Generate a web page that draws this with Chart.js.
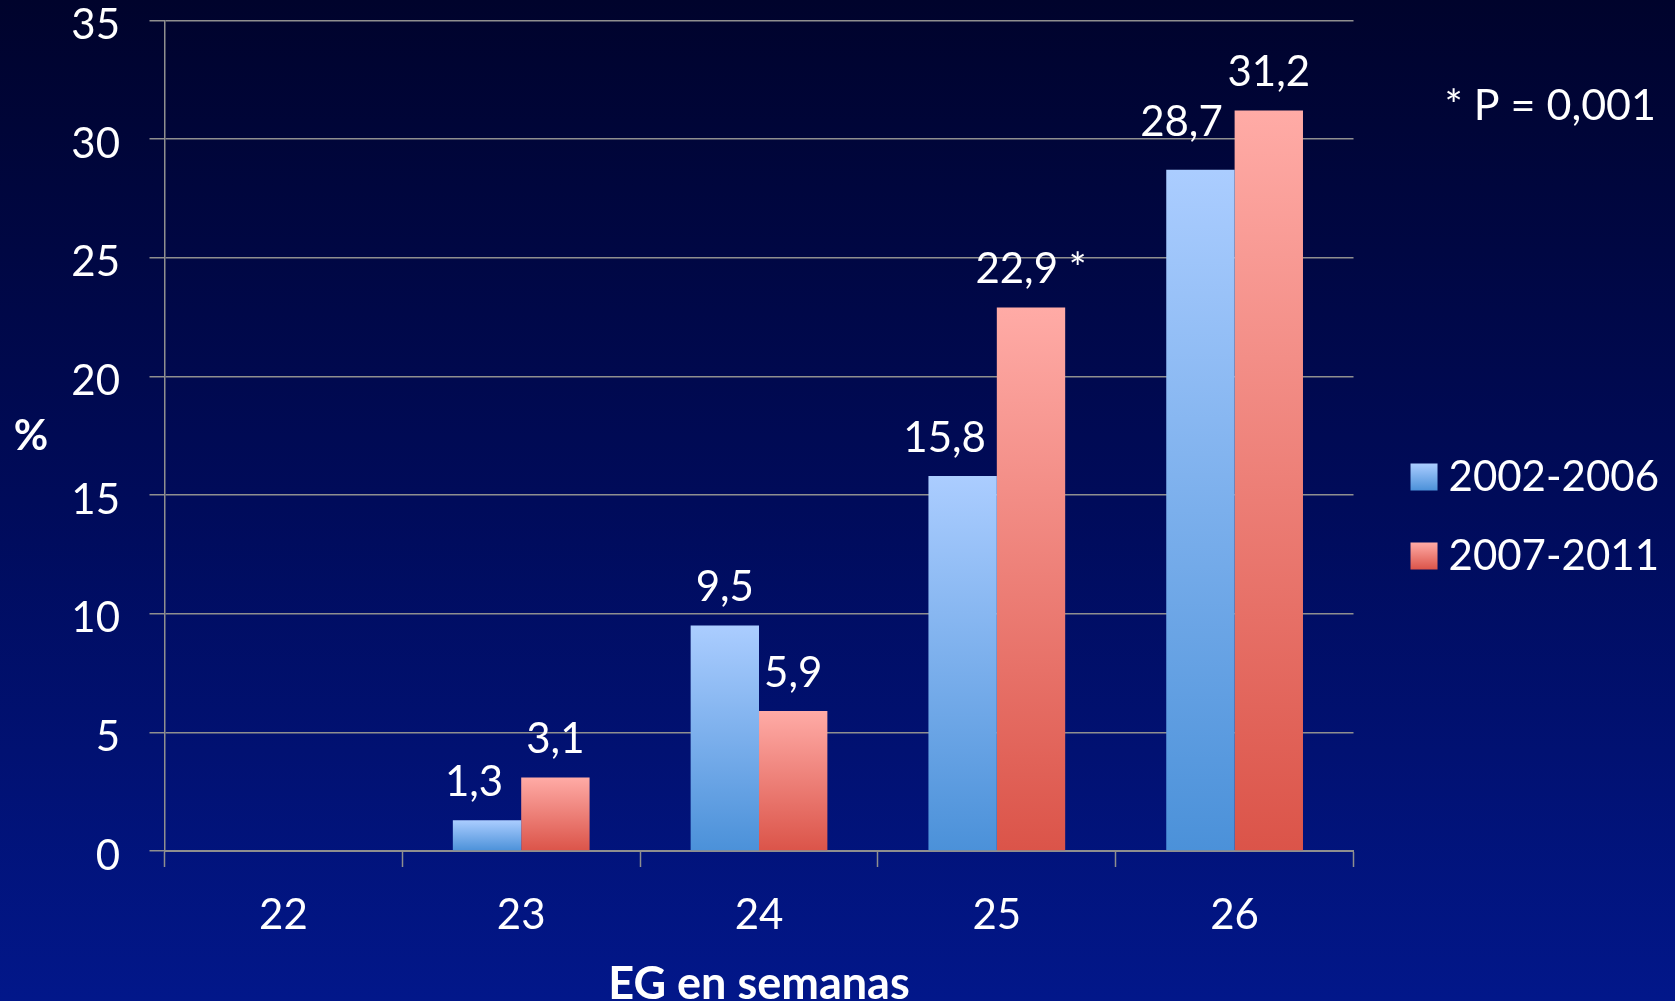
<!DOCTYPE html>
<html>
<head>
<meta charset="utf-8">
<title>EG en semanas</title>
<script src="https://cdn.jsdelivr.net/npm/chart.js@4.4.1/dist/chart.umd.min.js"></script>
<style>
  html, body { margin: 0; padding: 0; background: #000b5c; }
  #wrap { position: relative; width: 1675px; height: 1001px; }
</style>
</head>
<body>
<div id="wrap"><canvas id="grafico"></canvas></div>
<script>
// Datos
const semanas = ['22', '23', '24', '25', '26'];
const serie2002 = [null, 1.3, 9.5, 15.8, 28.7];
const serie2007 = [null, 3.1, 5.9, 22.9, 31.2];
const marcas2007 = ['', '', '', '*', ''];
const nombresSeries = ['2002-2006', '2007-2011'];
const ticksY = [0, 5, 10, 15, 20, 25, 30, 35];
const notaP = '* P = 0,001';
const tituloX = 'EG en semanas';
const tituloY = '%';

// Desplazamientos manuales de algunas etiquetas para que no se solapen
const ajusteEtiquetas = [
  { 1: [-13, 0], 3: [-18, 0], 4: [-19, -9] },
  {}
];

const FUENTE = 'Lato';
const GRIS = '#8f8f8f';
const LADO_CUADRO = 27;

function degradadoBarra(arriba, abajo) {
  return (c) => {
    if (c.type !== 'data' || !c.chart.chartArea || c.raw == null) return abajo;
    const ys = c.chart.scales.y;
    const y0 = ys.getPixelForValue(c.raw);
    const y1 = ys.getPixelForValue(0);
    const g = c.chart.ctx.createLinearGradient(0, y0, 0, y1);
    g.addColorStop(0, arriba);
    g.addColorStop(1, abajo);
    return g;
  };
}

const coloresSerie = [
  ['#abcdff', '#4b91d9'],
  ['#ffaba6', '#db5449']
];

const fondo = {
  id: 'fondo',
  beforeDraw(chart) {
    const { ctx, width, height } = chart;
    const g = ctx.createLinearGradient(0, 0, 0, height);
    g.addColorStop(0, '#00032c');
    g.addColorStop(0.5, '#000b5a');
    g.addColorStop(1, '#02178a');
    ctx.save();
    ctx.fillStyle = g;
    ctx.fillRect(0, 0, width, height);
    ctx.restore();
  }
};

// Leyenda separada del área del gráfico, con cuadros en degradado
const leyendaAjuste = {
  id: 'leyendaAjuste',
  afterLayout(chart) {
    const lg = chart.legend;
    if (!lg) return;
    lg.left += 30;
    lg.right += 30;
  },
  beforeDraw(chart) {
    const lg = chart.legend;
    if (!lg || !lg.legendItems) return;
    const fs = lg.options.labels.font.size;
    lg.legendItems.forEach((it, i) => {
      const hb = lg.legendHitBoxes[i];
      if (!hb) return;
      const top = hb.top + (fs - LADO_CUADRO) / 2;
      const g = chart.ctx.createLinearGradient(0, top, 0, top + LADO_CUADRO);
      g.addColorStop(0, coloresSerie[i][0]);
      g.addColorStop(1, coloresSerie[i][1]);
      it.fillStyle = g;
    });
  }
};

const etiquetas = {
  id: 'etiquetas',
  afterDatasetsDraw(chart) {
    const ctx = chart.ctx;
    ctx.save();
    ctx.font = '42px ' + FUENTE;
    ctx.fillStyle = '#ffffff';
    ctx.textAlign = 'center';
    ctx.textBaseline = 'middle';
    chart.data.datasets.forEach((ds, di) => {
      const meta = chart.getDatasetMeta(di);
      meta.data.forEach((bar, i) => {
        const v = ds.data[i];
        if (v == null) return;
        let txt = v.toFixed(1).replace('.', ',');
        const marca = ds.marcas ? ds.marcas[i] : '';
        if (marca) txt += ' ' + marca;
        const aj = ajusteEtiquetas[di][i] || [0, 0];
        ctx.fillText(txt, bar.x + aj[0], bar.y - 38 + aj[1]);
      });
    });
    ctx.restore();
  }
};

const textos = {
  id: 'textos',
  afterDraw(chart) {
    const ctx = chart.ctx;
    ctx.save();
    ctx.fillStyle = '#ffffff';
    ctx.textBaseline = 'middle';
    ctx.font = 'bold 42px ' + FUENTE;
    ctx.textAlign = 'center';
    ctx.fillText(tituloY, 31, 436);
    ctx.font = '43px ' + FUENTE;
    ctx.textAlign = 'right';
    ctx.fillText(notaP, 1656, 106);
    ctx.restore();
  }
};

function construir() {
  new Chart(document.getElementById('grafico'), {
    type: 'bar',
    data: {
      labels: semanas,
      datasets: [
        {
          label: nombresSeries[0],
          data: serie2002,
          backgroundColor: degradadoBarra(coloresSerie[0][0], coloresSerie[0][1]),
          borderWidth: 0
        },
        {
          label: nombresSeries[1],
          data: serie2007,
          marcas: marcas2007,
          backgroundColor: degradadoBarra(coloresSerie[1][0], coloresSerie[1][1]),
          borderWidth: 0
        }
      ]
    },
    options: {
      responsive: true,
      maintainAspectRatio: false,
      animation: false,
      datasets: { bar: { categoryPercentage: 0.575, barPercentage: 1 } },
      layout: { padding: { top: 20.3, bottom: -11.7, left: 0, right: 36 } },
      plugins: {
        tooltip: { enabled: false },
        legend: {
          position: 'right',
          align: 'center',
          labels: {
            color: '#ffffff',
            font: { family: FUENTE, size: 42 },
            usePointStyle: true,
            pointStyle: 'rect',
            boxWidth: 7,
            boxHeight: LADO_CUADRO,
            padding: 37
          }
        }
      },
      scales: {
        x: {
          grid: {
            display: true,
            drawOnChartArea: false,
            drawTicks: true,
            tickLength: 16,
            tickColor: GRIS,
            tickWidth: 1.5,
            offset: true
          },
          border: { display: true, color: GRIS, width: 2 },
          ticks: {
            color: '#ffffff',
            font: { family: FUENTE, size: 42 },
            padding: 23,
            maxRotation: 0
          },
          title: {
            display: true,
            text: tituloX,
            color: '#ffffff',
            font: { family: FUENTE, size: 45, weight: 'bold', lineHeight: 1 },
            padding: { top: 0, bottom: 6 }
          },
          afterFit(s) {
            s.height = 161.7;
            s.paddingLeft = 0;
            s.paddingRight = 0;
          }
        },
        y: {
          min: ticksY[0],
          max: ticksY[ticksY.length - 1],
          afterBuildTicks(s) {
            s.ticks = ticksY.map(v => ({ value: v }));
          },
          grid: {
            color: GRIS,
            lineWidth: 1.5,
            drawTicks: true,
            tickLength: 15,
            tickColor: GRIS
          },
          border: { display: true, color: GRIS, width: 1.5 },
          ticks: {
            color: '#ffffff',
            font: { family: FUENTE, size: 42, lineHeight: 0.9 },
            padding: 29.5,
            labelOffset: 5
          },
          afterFit(s) {
            s.width = 164.5;
            s.paddingTop = 0;
            s.paddingBottom = 0;
          }
        }
      }
    },
    plugins: [fondo, leyendaAjuste, etiquetas, textos]
  });
}

Promise.all([
  document.fonts.load('40px ' + FUENTE),
  document.fonts.load('bold 42px ' + FUENTE)
]).then(construir, construir);
</script>
</body>
</html>
